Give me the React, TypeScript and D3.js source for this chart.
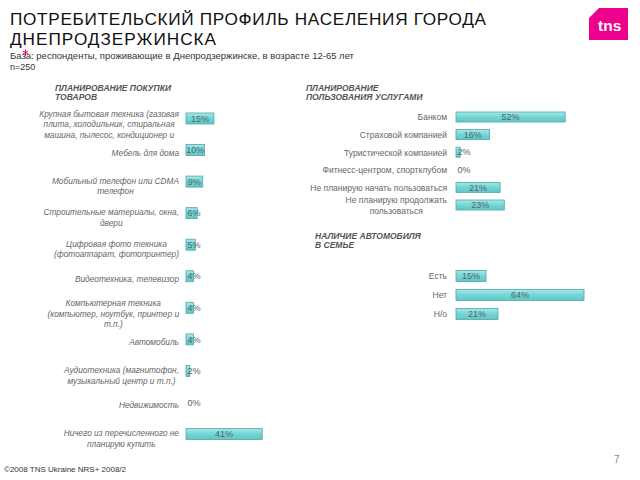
import React from "react";
import * as d3 from "d3";

const goodsLabels: string[][] = [
  ["Крупная бытовая техника (газовая", "плита, холодильник, стиральная", "машина, пылесос, кондиционер и"],
  ["Мебель для дома"],
  ["Мобильный телефон или CDMA", "телефон"],
  ["Строительные материалы, окна,", "двери"],
  ["Цифровая фото техника", "(фотоаппарат, фотопринтер)"],
  ["Видеотехника, телевизор"],
  ["Компьютерная техника", "(компьютер, ноутбук, принтер и", "т.п.)"],
  ["Автомобиль"],
  ["Аудиотехника (магнитофон,", "музыкальный центр и т.п.)"],
  ["Недвижимость"],
  ["Ничего из перечисленного не", "планирую купить"],
];
const goodsValues: number[] = [15, 10, 9, 6, 5, 4, 4, 4, 2, 0, 41];

const serviceLabels: string[][] = [
  ["Банком"],
  ["Страховой компанией"],
  ["Туристической компанией"],
  ["Фитнесс-центром, спортклубом"],
  ["Не планирую начать пользоваться"],
  ["Не планирую продолжать", "пользоваться"],
];
const serviceValues: number[] = [52, 16, 2, 0, 21, 23];

const carLabels: string[][] = [["Есть"], ["Нет"], ["Н/о"]];
const carValues: number[] = [15, 64, 21];

const FONT = "'Liberation Sans', Arial, sans-serif";

let ctx: CanvasRenderingContext2D | null = null;
function measure(text: string, font: string): number {
  if (!ctx) ctx = document.createElement("canvas").getContext("2d");
  if (!ctx) return text.length * 4;
  ctx.font = font;
  return ctx.measureText(text).width;
}

type ChartProps = {
  labels: string[][];
  values: number[];
  x0: number;
  pxPerUnit: number;
  y0: number;
  y1: number;
  barH: number;
  labelRight: number;
  italic: boolean;
  fs: number;
  labelOffset: (n: number) => number;
  idp: string;
};

function BarChart(p: ChartProps) {
  const keys = p.labels.map((_, i) => String(i));
  const y = d3.scaleBand<string>().domain(keys).range([p.y0, p.y1]).padding(0);
  const x = d3.scaleLinear().domain([0, 100]).range([p.x0, p.x0 + p.pxPerUnit * 100]);
  const fs = p.fs;
  const lh = 10.5;
  const fontStr = `${p.italic ? "italic " : ""}${fs}px 'Liberation Sans', Arial, sans-serif`;
  return (
    <g>
      {p.values.map((v, i) => {
        const cy = (y(String(i)) as number) + y.bandwidth() / 2;
        const w = x(v) - x(0);
        const lines = p.labels[i];
        const maxW = Math.max(...lines.map((l) => measure(l, fontStr)));
        const multi = lines.length > 1;
        const lx = multi ? p.labelRight - maxW / 2 : p.labelRight;
        const ly = cy + p.labelOffset(lines.length) - ((lines.length - 1) * lh) / 2;
        const tx = x(0) + Math.max(w / 2, 8);
        return (
          <g key={i}>
            <text
              x={lx}
              y={ly}
              dy="0.35em"
              textAnchor={multi ? "middle" : "end"}
              fontSize={fs}
              fontStyle={p.italic ? "italic" : "normal"}
              fill="#666"
              fontFamily={FONT}
            >
              {lines.map((l, j) => (
                <tspan key={j} x={lx} y={ly + j * lh} dy="0.35em">
                  {l}
                </tspan>
              ))}
            </text>
            {w > 0 && (
              <rect
                x={x(0)}
                y={cy - p.barH / 2}
                width={w}
                height={p.barH}
                fill={`url(#${p.idp})`}
                stroke="#4fa9a9"
                strokeWidth={0.8}
              />
            )}
            <text
              x={tx}
              y={cy}
              dy="0.35em"
              textAnchor="middle"
              fontSize={9}
              fill="#4f6767"
              fontFamily={FONT}
            >
              {`${v}%`}
            </text>
          </g>
        );
      })}
    </g>
  );
}

export default function App() {
  return (
    <svg width={640} height={480} style={{ position: "absolute", left: 0, top: 0 }} fontFamily={FONT}>
      <defs>
        {["g1", "g2", "g3"].map((id) => (
          <linearGradient key={id} id={id} x1="0" y1="0" x2="0" y2="1">
            <stop offset="0" stopColor="#a6e8e8" />
            <stop offset="0.5" stopColor="#74d4d4" />
            <stop offset="1" stopColor="#62c6c6" />
          </linearGradient>
        ))}
      </defs>
      <rect width={640} height={480} fill="#fff" />
      <text x={10} y={25} fontSize={17.2} fill="#111" textLength={476} lengthAdjust="spacing">
        ПОТРЕБИТЕЛЬСКИЙ ПРОФИЛЬ НАСЕЛЕНИЯ ГОРОДА
      </text>
      <text x={10} y={45} fontSize={17.2} fill="#111" textLength={206} lengthAdjust="spacing">
        ДНЕПРОДЗЕРЖИНСКА
      </text>
      <text x={10} y={58.5} fontSize={9.5} fill="#333">
        База: респонденты, проживающие в Днепродзержинске, в возрасте 12-65 лет
      </text>
      <g stroke="#e6007e" strokeWidth={1} transform="translate(25.5,52.5)">
        <line x1={0} y1={-3} x2={0} y2={3} />
        <line x1={-2.6} y1={-1.5} x2={2.6} y2={1.5} />
        <line x1={-2.6} y1={1.5} x2={2.6} y2={-1.5} />
      </g>
      <text x={10} y={69.5} fontSize={9} fill="#333">n=250</text>

      <path d="M599,8 L628,8 L628,40 L589,40 L589,18 Z" fill="#ec008c" />
      <text x={598} y={31} fontSize={15.5} fontWeight="bold" fill="#fff">tns</text>

      <g fontSize={8.5} fontStyle="italic" fontWeight="bold" fill="#555">
        <text x={55} y={91}>ПЛАНИРОВАНИЕ ПОКУПКИ</text>
        <text x={55} y={100}>ТОВАРОВ</text>
        <text x={306} y={91}>ПЛАНИРОВАНИЕ</text>
        <text x={306} y={100}>ПОЛЬЗОВАНИЯ УСЛУГАМИ</text>
        <text x={315} y={239}>НАЛИЧИЕ АВТОМОБИЛЯ</text>
        <text x={315} y={248}>В СЕМЬЕ</text>
      </g>

      <BarChart
        labels={goodsLabels}
        values={goodsValues}
        x0={186}
        pxPerUnit={1.86}
        y0={102.7}
        y1={449.8}
        barH={11}
        labelRight={179}
        italic={true}
        fs={8.3}
        labelOffset={(n) => 3 + (n - 1) * 1.5}
        idp="g1"
      />
      <BarChart
        labels={serviceLabels}
        values={serviceValues}
        x0={456}
        pxPerUnit={2.1}
        y0={108.2}
        y1={213.8}
        barH={10}
        labelRight={447}
        italic={false}
        fs={8.5}
        labelOffset={() => 0.5}
        idp="g2"
      />
      <BarChart
        labels={carLabels}
        values={carValues}
        x0={456}
        pxPerUnit={2.0}
        y0={266.5}
        y1={323.5}
        barH={11}
        labelRight={447}
        italic={false}
        fs={8.5}
        labelOffset={() => 0}
        idp="g3"
      />

      <text x={4} y={472} fontSize={8} fill="#333">©2008 TNS Ukraine  NRS+ 2008/2</text>
      <text x={614} y={463} fontSize={10} fill="#888">7</text>
    </svg>
  );
}
